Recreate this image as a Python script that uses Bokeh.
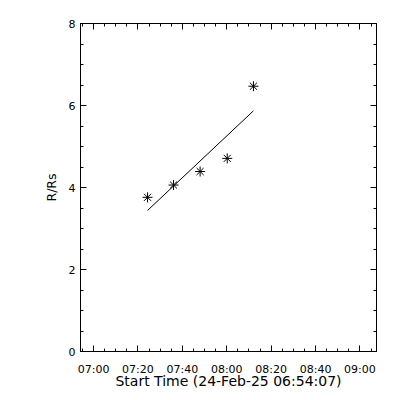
import pandas as pd
from bokeh.plotting import figure
from bokeh.models import (LinearAxis, DatetimeAxis, FixedTicker, DatetimeTickFormatter,
                          Range1d, ColumnDataSource)
from bokeh.embed import file_html
from bokeh.resources import INLINE

# ---- data ----
start_time = "2025-02-24 06:54:07"
times = ["2025-02-24 07:24:19", "2025-02-24 07:36:01", "2025-02-24 07:48:00",
         "2025-02-24 08:00:13", "2025-02-24 08:12:01"]
r_rs = [3.76, 4.06, 4.39, 4.71, 6.47]
fit_times = ["2025-02-24 07:24:19", "2025-02-24 08:12:01"]
fit_r = [3.44, 5.87]
x_tick_labels = ["07:00", "07:20", "07:40", "08:00", "08:20", "08:40", "09:00"]
y_ticks = [0, 2, 4, 6, 8]

t0 = pd.Timestamp(start_time)
tx = pd.to_datetime(times)
ftx = pd.to_datetime(fit_times)

def ms(ts):
    return (pd.Timestamp(ts) - pd.Timestamp("1970-01-01")).total_seconds() * 1000.0

x_start = ms(t0)
x_end = ms(t0 + pd.Timedelta(seconds=8000))
major_x = [ms("2025-02-24 " + l + ":00") for l in x_tick_labels]
minor_x = []
m = pd.Timestamp("2025-02-24 06:55:00")
while m <= t0 + pd.Timedelta(seconds=8000):
    minor_x.append(ms(m))
    m += pd.Timedelta(minutes=5)
minor_y = [i * 0.5 for i in range(17)]

FONT = "DejaVu Sans"
FS = "11px"

p = figure(width=392, height=392, x_axis_type=None, y_axis_type=None,
           output_backend="svg", toolbar_location=None,
           x_range=Range1d(x_start, x_end), y_range=Range1d(0, 8),
           min_border_left=80, min_border_top=23, min_border_right=16, min_border_bottom=41)
p.frame_width = 296
p.frame_height = 328
p.background_fill_color = "white"
p.border_fill_color = "white"
p.outline_line_color = "black"
p.outline_line_alpha = 1.0
p.grid.visible = False

xt = FixedTicker(ticks=major_x, minor_ticks=minor_x)
yt = FixedTicker(ticks=y_ticks, minor_ticks=minor_y)
fmt = DatetimeTickFormatter(seconds="%H:%M", minsec="%H:%M", minutes="%H:%M",
                            hourmin="%H:%M", hours="%H:%M", days="%H:%M",
                            months="%H:%M", years="%H:%M")

def style(ax, labels=True):
    ax.axis_line_color = "black"
    ax.major_tick_line_color = "black"
    ax.minor_tick_line_color = "black"
    ax.major_tick_in = 6
    ax.major_tick_out = 0
    ax.minor_tick_in = 3
    ax.minor_tick_out = 0
    ax.major_label_text_font = FONT
    ax.major_label_text_font_size = FS
    ax.major_label_text_color = "black"
    ax.axis_label_text_font = FONT
    ax.axis_label_text_font_size = "14px"
    ax.axis_label_text_font_style = "normal"
    ax.axis_label_text_color = "black"
    if not labels:
        ax.major_label_text_font_size = "0px"
        ax.major_label_text_alpha = 0

xb = DatetimeAxis(ticker=xt, formatter=fmt, axis_label="Start Time (24-Feb-25 06:54:07)")
style(xb)
xb.major_label_standoff = 11
xb.axis_label_standoff = -6
p.add_layout(xb, "below")

xa = DatetimeAxis(ticker=xt, formatter=fmt)
style(xa, labels=False)
p.add_layout(xa, "above")

yl = LinearAxis(ticker=yt, axis_label="R/Rs")
style(yl)
yl.axis_label_text_font_size = "12.5px"
yl.major_label_standoff = 5
yl.axis_label_standoff = 7
yl.major_label_orientation = "horizontal"
p.add_layout(yl, "left")

yr = LinearAxis(ticker=yt)
style(yr, labels=False)
p.add_layout(yr, "right")

src = ColumnDataSource(dict(x=tx, y=r_rs))
p.scatter("x", "y", source=src, marker="asterisk", size=10, line_color="black", line_width=1)
p.line(ftx, fit_r, line_color="black", line_width=1)

open("out.html", "w").write(file_html(p, INLINE))
